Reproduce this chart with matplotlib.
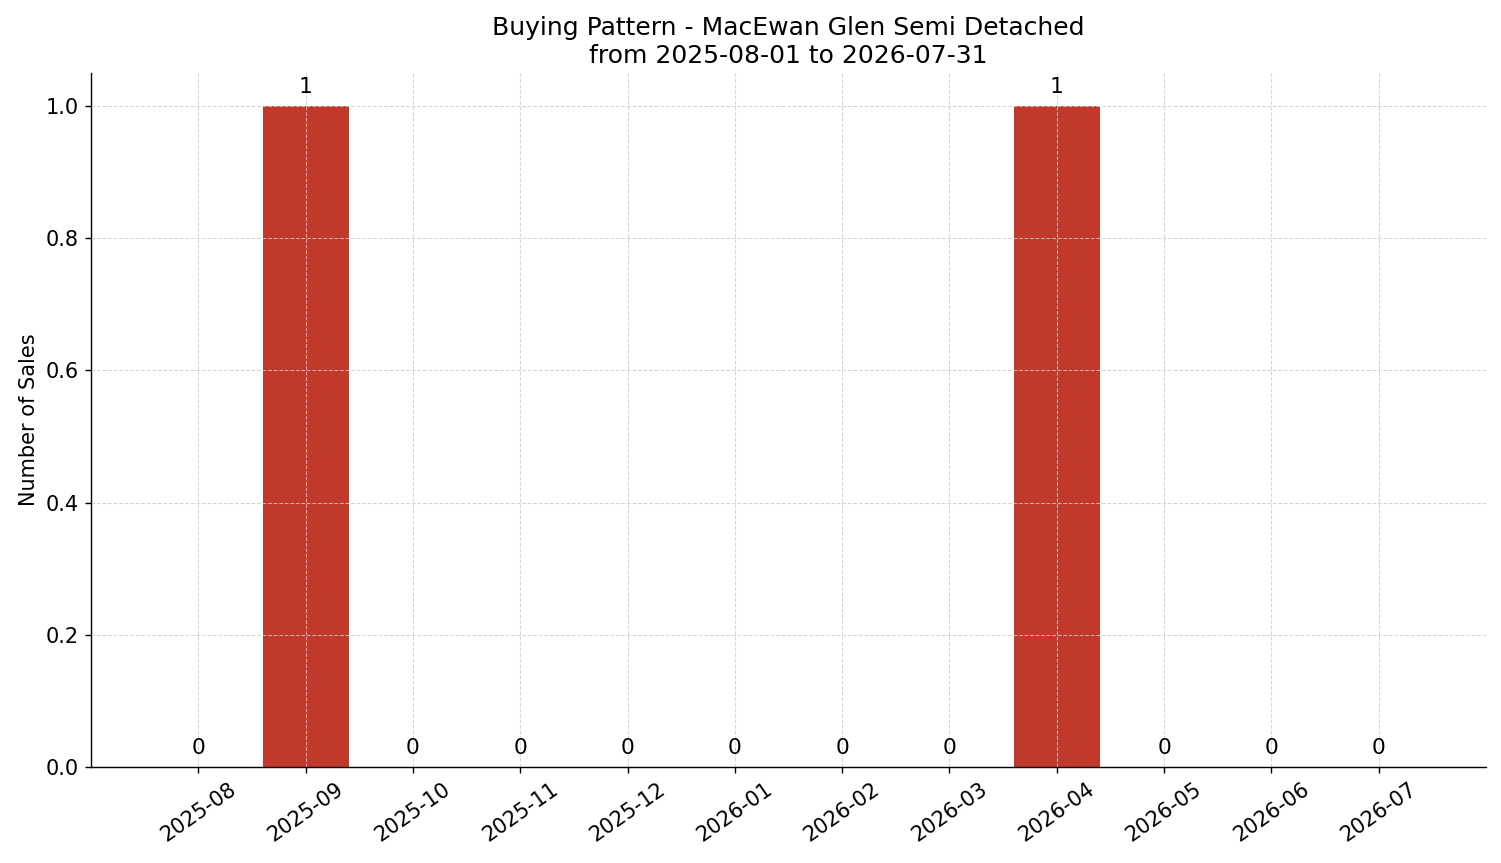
import matplotlib
matplotlib.use("Agg")
import matplotlib.pyplot as plt

months = ["2025-08", "2025-09", "2025-10", "2025-11", "2025-12", "2026-01",
          "2026-02", "2026-03", "2026-04", "2026-05", "2026-06", "2026-07"]
sales = [0, 1, 0, 0, 0, 0, 0, 0, 1, 0, 0, 0]

DPI = 125
fig = plt.figure(figsize=(1501/DPI, 863/DPI), dpi=DPI)
ax = fig.add_axes([91/1501, 1-767/863, (1486-91)/1501, (767-73)/863])
x = list(range(len(months)))
bars = ax.bar(x, sales, width=0.8, color="#c0392b")
for xi, v in zip(x, sales):
    ax.text(xi, v + 0.013, str(v), ha="center", va="bottom", fontsize=12.5)
ax.set_xticks(x)
ax.set_xticklabels(months, rotation=35, fontsize=12)
ax.tick_params(axis="y", labelsize=12)
ax.set_xlim(-1, 12)
ax.set_ylim(0, 1.05)
ax.set_ylabel("Number of Sales", fontsize=12)
ax.set_title("Buying Pattern - MacEwan Glen Semi Detached\nfrom 2025-08-01 to 2026-07-31", fontsize=14.4)
ax.grid(True, linestyle="--", color="#cccccc", linewidth=0.6, alpha=0.8)
ax.spines["top"].set_visible(False)
ax.spines["right"].set_visible(False)
fig.savefig("out.png", dpi=DPI)
